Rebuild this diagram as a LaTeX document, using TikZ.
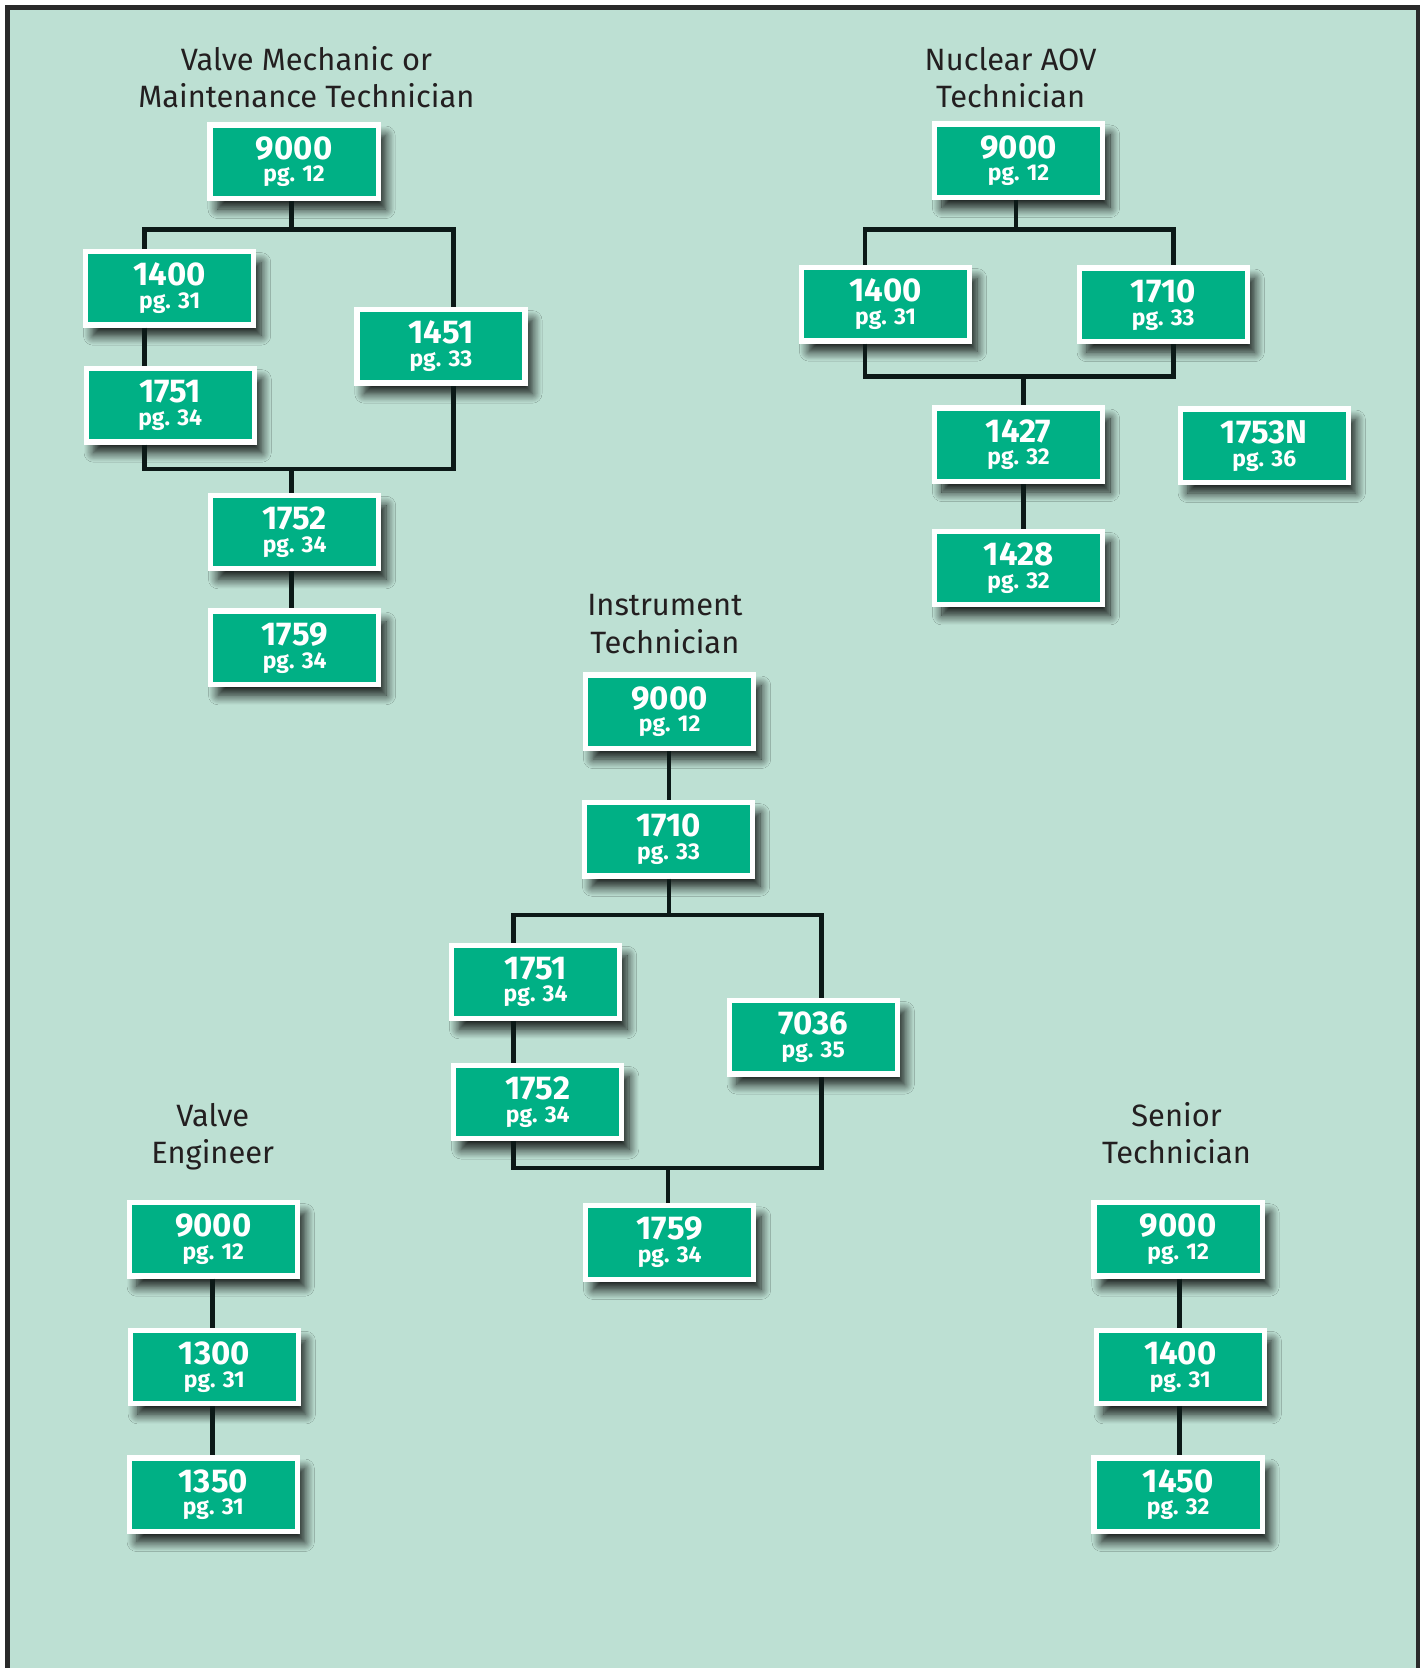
\documentclass[tikz,border=0pt]{standalone}
\usepackage{fontspec}
\setmainfont{Fira Sans}
\usetikzlibrary{shadows.blur}
\definecolor{bgmint}{HTML}{BDE0D3}
\definecolor{boxgreen}{HTML}{00B085}
\definecolor{linec}{HTML}{0C1917}
\definecolor{titlec}{HTML}{231F20}
\definecolor{framec}{HTML}{2A2A2A}
\tikzset{
  box/.style={draw=white, line width=5pt, fill=boxgreen, minimum width=158pt,
    minimum height=69pt, inner sep=0pt, align=center, text=white,
    font=\fontsize{21.5}{21.5}\selectfont\bfseries,
    blur shadow={shadow xshift=7pt, shadow yshift=-10pt, shadow blur radius=9pt, shadow blur steps=12, shadow opacity=90}},
  conn/.style={draw=linec, line width=4.4pt},
  ttl/.style={text=titlec, align=center, font=\fontsize{29}{35}\selectfont, anchor=base, inner sep=0pt}
}
\newcommand\bxt[2]{{\fontsize{31}{21.5}\selectfont #1}\\pg. #2}
\begin{document}
\begin{tikzpicture}[x=1pt,y=-1pt]
\useasboundingbox (0,0) rectangle (1338,1568);
\fill[white] (0,0) rectangle (1338,1568);
\fill[bgmint] (7,7) rectangle (1333,1600);
\draw[framec, line width=4pt] (7,1600) -- (7,7) -- (1333,7) -- (1333,1600);

% titles (anchor base = last line)
\node[ttl] (tvm) at (288,101) {Valve Mechanic or\\Maintenance Technician};
\node[ttl] (tnu) at (950,101) {Nuclear AOV\\Technician};
\node[ttl] (tin) at (625,614) {Instrument\\Technician};
\node[ttl] (tve) at (200,1094) {Valve\\Engineer};
\node[ttl] (tst) at (1106,1094) {Senior\\Technician};

% Valve mechanic
\node[box] (vm9000) at (276.5,152) {\bxt{9000}{12}};
\node[box] (vm1400) at (159.5,271) {\bxt{1400}{31}};
\node[box] (vm1451) at (414.5,325.5) {\bxt{1451}{33}};
\node[box] (vm1751) at (160,381) {\bxt{1751}{34}};
\node[box] (vm1752) at (277,500) {\bxt{1752}{34}};
\node[box] (vm1759) at (277,609) {\bxt{1759}{34}};

% Nuclear AOV
\node[box] (nu9000) at (957.5,151) {\bxt{9000}{12}};
\node[box] (nu1400) at (832.5,286) {\bxt{1400}{31}};
\node[box] (nu1710) at (1093.5,286.5) {\bxt{1710}{33}};
\node[box] (nu1427) at (957.5,418) {\bxt{1427}{32}};
\node[box] (nu1753) at (1188.5,419) {\bxt{1753N}{36}};
\node[box] (nu1428) at (957.5,534) {\bxt{1428}{32}};

% Instrument
\node[box] (in9000) at (629.5,669) {\bxt{9000}{12}};
\node[box] (in1710) at (628.5,789) {\bxt{1710}{33}};
\node[box] (in1751) at (503.5,923) {\bxt{1751}{34}};
\node[box] (in7036) at (764.5,975) {\bxt{7036}{35}};
\node[box] (in1752) at (505.5,1036) {\bxt{1752}{34}};
\node[box] (in1759) at (629.5,1168) {\bxt{1759}{34}};

% Valve engineer
\node[box] (ve9000) at (200.5,1165) {\bxt{9000}{12}};
\node[box] (ve1300) at (201.5,1285) {\bxt{1300}{31}};
\node[box] (ve1350) at (200.5,1405) {\bxt{1350}{31}};

% Senior technician
\node[box] (st9000) at (1107.5,1165) {\bxt{9000}{12}};
\node[box] (st1400) at (1109.5,1285) {\bxt{1400}{31}};
\node[box] (st1450) at (1107.5,1405) {\bxt{1450}{32}};

% connectors: valve mechanic
\coordinate (vmL) at (136,216);
\coordinate (vmR) at (426,216);
\coordinate (vmT) at (274,216);
\coordinate (vmBL) at (136,441);
\coordinate (vmBR) at (426,441);
\coordinate (vmM) at (274,441);
\draw[conn] (vm9000.south -| vmT) -- (vmT);
\draw[conn] (vm1400.north -| vmL) -- (vmL) -- (vmR) -- (vm1451.north -| vmR);
\draw[conn] (vm1400.south -| vmL) -- (vm1751.north -| vmL);
\draw[conn] (vm1751.south -| vmBL) -- (vmBL) -- (vmBR) -- (vm1451.south -| vmBR);
\draw[conn] (vmM) -- (vm1752.north -| vmM);
\draw[conn] (vm1752.south -| vmM) -- (vm1759.north -| vmM);

% connectors: nuclear
\coordinate (nuL) at (813,216);
\coordinate (nuR) at (1103,216);
\coordinate (nuT) at (955,216);
\coordinate (nuBL) at (813,354);
\coordinate (nuBR) at (1103,354);
\coordinate (nuM) at (962,354);
\draw[conn] (nu9000.south -| nuT) -- (nuT);
\draw[conn] (nu1400.north -| nuL) -- (nuL) -- (nuR) -- (nu1710.north -| nuR);
\draw[conn] (nu1400.south -| nuBL) -- (nuBL) -- (nuBR) -- (nu1710.south -| nuBR);
\draw[conn] (nuM) -- (nu1427.north -| nuM);
\draw[conn] (nu1427.south -| nuM) -- (nu1428.north -| nuM);

% connectors: instrument
\coordinate (inL) at (483,860);
\coordinate (inR) at (772,860);
\coordinate (inT) at (629,860);
\coordinate (inBL) at (483,1098);
\coordinate (inBR) at (772,1098);
\coordinate (inM) at (628,1098);
\draw[conn] (in9000.south -| inT) -- (in1710.north -| inT);
\draw[conn] (in1710.south -| inT) -- (inT);
\draw[conn] (in1751.north -| inL) -- (inL) -- (inR) -- (in7036.north -| inR);
\draw[conn] (in1751.south -| inL) -- (in1752.north -| inL);
\draw[conn] (in1752.south -| inBL) -- (inBL) -- (inBR) -- (in7036.south -| inBR);
\draw[conn] (inM) -- (in1759.north -| inM);

% connectors: valve engineer
\coordinate (veX) at (200,0);
\draw[conn] (ve9000.south -| veX) -- (ve1300.north -| veX);
\draw[conn] (ve1300.south -| veX) -- (ve1350.north -| veX);

% connectors: senior technician
\coordinate (stX) at (1109,0);
\draw[conn] (st9000.south -| stX) -- (st1400.north -| stX);
\draw[conn] (st1400.south -| stX) -- (st1450.north -| stX);
\end{tikzpicture}
\end{document}
